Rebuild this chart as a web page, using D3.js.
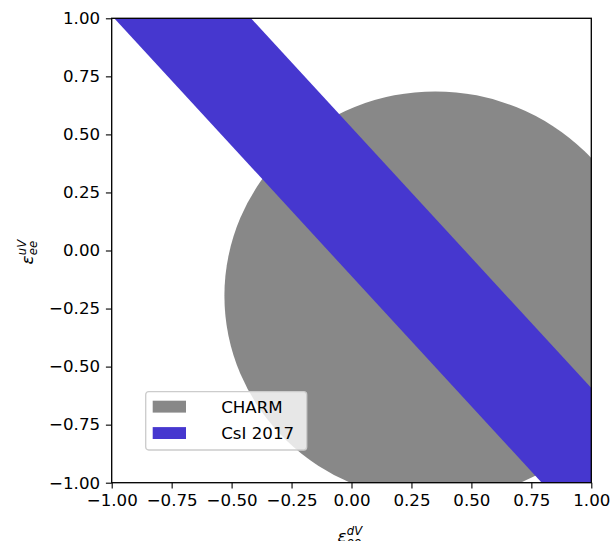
<!DOCTYPE html>
<html>
<head>
<meta charset="utf-8">
<script src="https://cdn.jsdelivr.net/npm/d3@7"></script>
<style>
  body { margin: 0; background: #fff; }
  svg { display: block; font-family: "DejaVu Sans", sans-serif; }
</style>
</head>
<body>
<svg id="chart" width="611" height="541"></svg>
<script>
// data
const ticks = [-1, -0.75, -0.5, -0.25, 0, 0.25, 0.5, 0.75, 1];
const regionNames = ["CHARM", "CsI 2017"];
const regionColors = ["#888888", "#4637cf"];
// CHARM: disc in (eps_dV, eps_uV)
const charmCenter = [0.35, -0.195];
const charmRadius = 0.88;
// CsI 2017: band  low <= eps_uV + k * eps_dV <= high
const csiCoef = 1.122;
const csiBounds = [-0.11, 0.53];

const fontSize = 16.67;
const tickLen = 5.8;
const plot = { left: 111.7, right: 591.3, top: 18.3, bottom: 482.7 };

const svg = d3.select("#chart");

const x = d3.scaleLinear().domain([-1, 1]).range([plot.left, plot.right]);
const y = d3.scaleLinear().domain([-1, 1]).range([plot.bottom, plot.top]);

svg.append("defs")
    .append("clipPath")
    .attr("id", "plotClip")
    .append("rect")
    .attr("x", plot.left)
    .attr("y", plot.top)
    .attr("width", plot.right - plot.left)
    .attr("height", plot.bottom - plot.top);

const area = svg.append("g").attr("clip-path", "url(#plotClip)");

// CHARM disc
area.append("ellipse")
    .attr("cx", x(charmCenter[0]))
    .attr("cy", y(charmCenter[1]))
    .attr("rx", x(charmRadius) - x(0))
    .attr("ry", y(0) - y(charmRadius))
    .attr("fill", regionColors[0]);

// CsI band, as a polygon running past the plot edges
const dEnds = [-2, 2];
const bandPts = [
    [dEnds[0], csiBounds[0] - csiCoef * dEnds[0]],
    [dEnds[1], csiBounds[0] - csiCoef * dEnds[1]],
    [dEnds[1], csiBounds[1] - csiCoef * dEnds[1]],
    [dEnds[0], csiBounds[1] - csiCoef * dEnds[0]],
];
area.append("path")
    .attr("d", d3.line().x(d => x(d[0])).y(d => y(d[1]))(bandPts) + "Z")
    .attr("fill", regionColors[1]);

// axes
const fmt = d3.format(".2f");

const xAxis = svg.append("g")
    .attr("transform", `translate(0,${plot.bottom})`)
    .call(d3.axisBottom(x).tickValues(ticks).tickFormat(fmt).tickSize(tickLen).tickPadding(5.8));

const yAxis = svg.append("g")
    .attr("transform", `translate(${plot.left},0)`)
    .call(d3.axisLeft(y).tickValues(ticks).tickFormat(fmt).tickSize(tickLen).tickPadding(5.8));

[xAxis, yAxis].forEach(a => {
    a.select(".domain").remove();
    a.selectAll(".tick line").attr("stroke", "#000").attr("stroke-width", 1.1);
    a.selectAll(".tick text")
        .attr("fill", "#000")
        .style("font-family", "DejaVu Sans")
        .style("font-size", fontSize + "px");
});

// frame
svg.append("rect")
    .attr("x", plot.left)
    .attr("y", plot.top)
    .attr("width", plot.right - plot.left)
    .attr("height", plot.bottom - plot.top)
    .attr("fill", "none")
    .attr("stroke", "#000")
    .attr("stroke-width", 1.33);

// math-style axis labels: epsilon with stacked super/subscript
function epsLabel(g, sup, sub) {
    const small = fontSize * 0.7;
    g.append("text")
        .attr("x", -14)
        .attr("y", 0)
        .style("font-style", "italic")
        .style("font-size", fontSize + "px")
        .text("ε");
    g.append("text")
        .attr("x", -4.7)
        .attr("y", -7)
        .style("font-style", "italic")
        .style("font-size", small + "px")
        .text(sup);
    g.append("text")
        .attr("x", -4.7)
        .attr("y", 4.2)
        .style("font-style", "italic")
        .style("font-size", small + "px")
        .text(sub);
}

epsLabel(svg.append("g").attr("transform", `translate(${(plot.left + plot.right) / 2},541.5)`), "dV", "ee");
epsLabel(svg.append("g").attr("transform", `translate(32.5,${(plot.top + plot.bottom) / 2}) rotate(-90)`), "uV", "ee");

// legend
const legend = svg.append("g").attr("transform", "translate(145.7,391.7)");

legend.append("rect")
    .attr("width", 161)
    .attr("height", 58.3)
    .attr("rx", 3)
    .attr("fill", "#fff")
    .attr("fill-opacity", 0.8)
    .attr("stroke", "#cccccc")
    .attr("stroke-width", 1.33);

const items = legend.selectAll("g.item")
    .data(regionNames)
    .enter()
    .append("g")
    .attr("class", "item")
    .attr("transform", (d, i) => `translate(0,${9 + i * 26.4})`);

items.append("rect")
    .attr("x", 7)
    .attr("width", 33.3)
    .attr("height", 11.9)
    .attr("fill", (d, i) => regionColors[i]);

items.append("text")
    .attr("x", 75.5)
    .attr("y", 12)
    .style("font-size", fontSize + "px")
    .attr("fill", "#000")
    .text(d => d);
</script>
</body>
</html>
